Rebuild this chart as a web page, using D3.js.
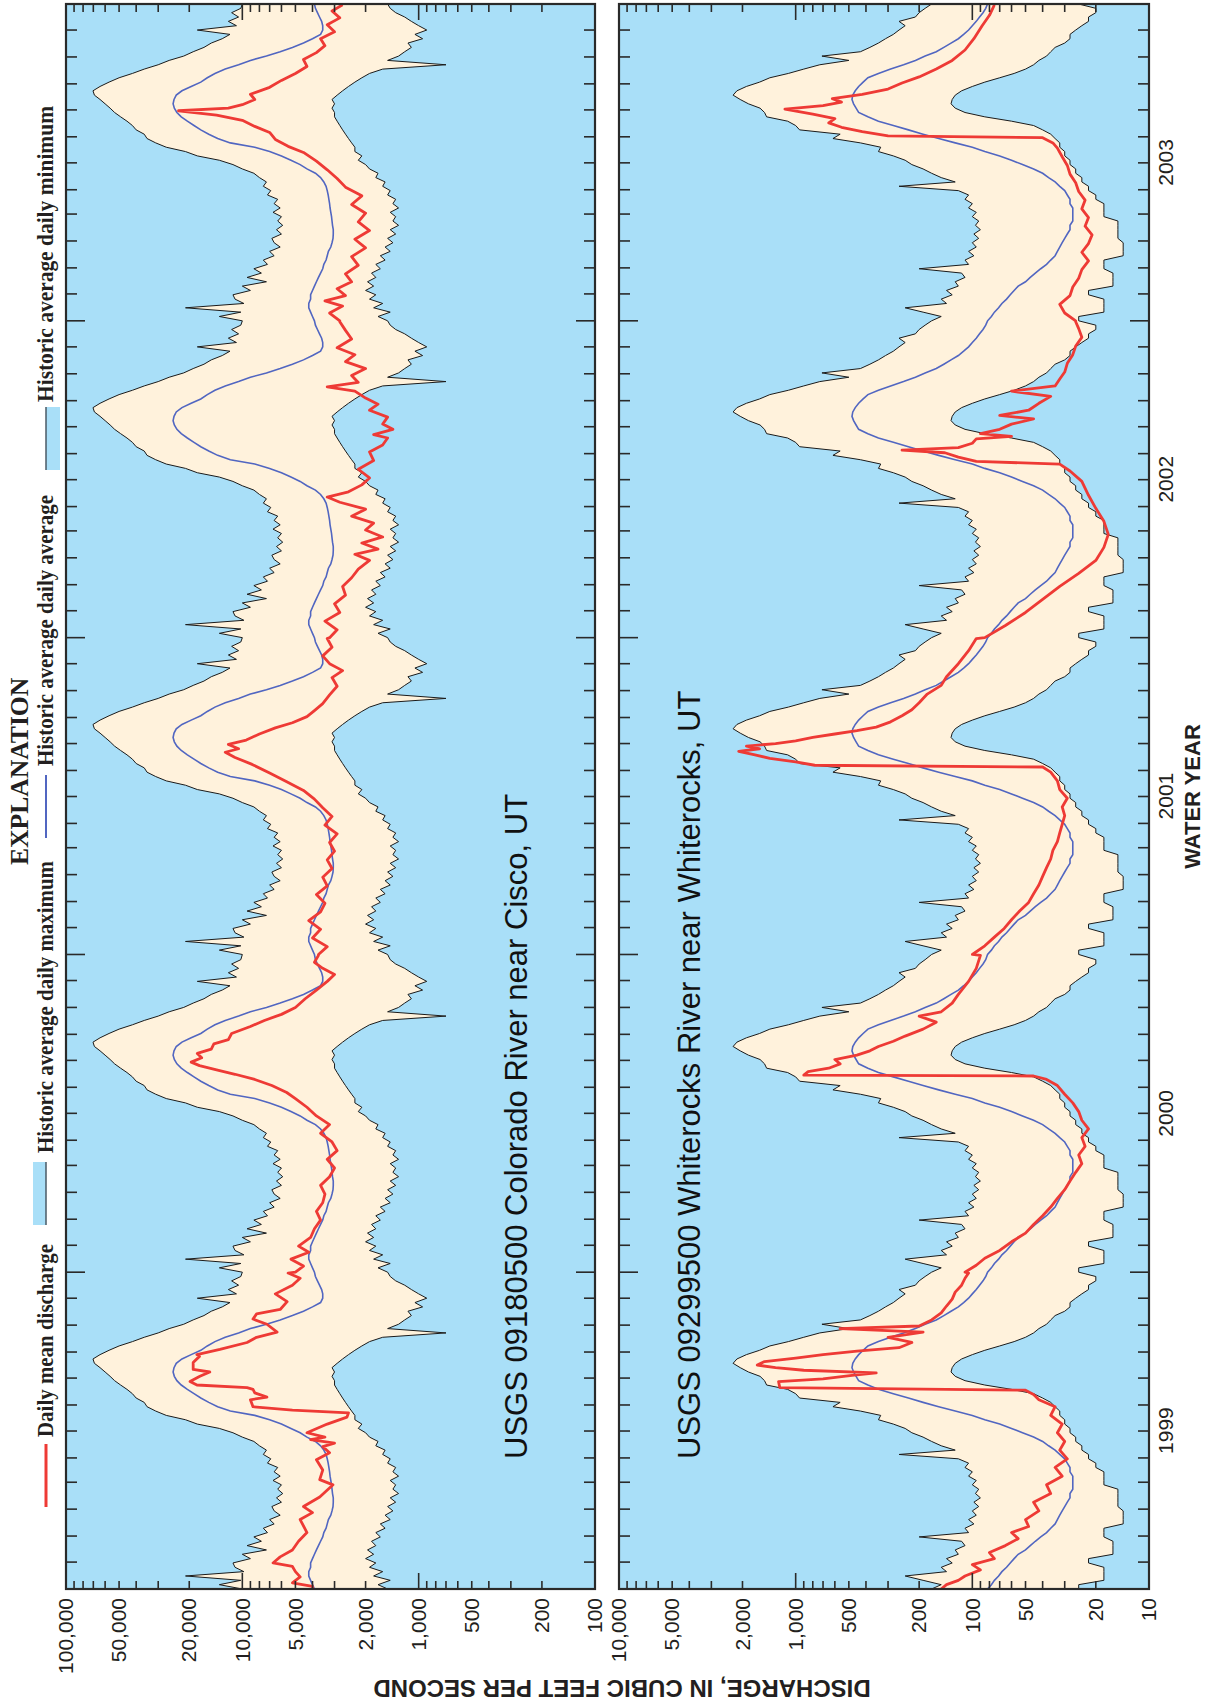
<!DOCTYPE html>
<html>
<head>
<meta charset="utf-8">
<script src="https://cdn.jsdelivr.net/npm/d3@7"></script>
<style>
  body { margin: 0; background: #fff; }
  svg { display: block; }
</style>
</head>
<body>
<svg id="chart" width="1209" height="1703"></svg>
<script>
// ---- data -------------------------------------------------------------
// historic daily statistics, by day of the water year (day 0 = Oct 1)
var histDays = [0,5,10,15,20,25,30,35,40,45,50,55,60,65,70,75,80,85,90,95,
  100,105,110,115,120,125,130,135,140,145,150,155,160,165,170,175,180,185,190,195,
  200,205,210,215,220,225,230,235,240,245,250,255,260,265,270,275,280,285,290,295,
  300,305,310,315,320,325,330,335,340,345,350,355,360];

var ciscoMax = [10000,13500,10200,21000,9800,11000,11300,9000,10000,7300,
  9400,7800,8600,7200,7600,6600,7000,6100,6600,6800,
  6000,6400,5900,6300,6000,6700,6100,6600,6300,7200,
  6900,7600,7300,8000,8600,10000,11300,13500,18000,21000,
  27000,31000,34700,36000,40000,42000,45100,49000,53000,56200,
  60000,64100,69000,70300,64100,57000,50000,42000,36000,30000,
  26000,21500,19000,16500,15000,13000,11750,18000,10800,12000,
  10500,11500,10200];
var ciscoMin = [1500,1700,1450,1800,1600,1900,1750,2000,1800,1950,
  1750,1850,1650,1750,1550,1650,1450,1550,1400,1500,
  1350,1450,1300,1400,1350,1450,1300,1400,1350,1500,
  1450,1600,1550,1750,1700,1900,2000,2200,2100,2300,
  2300,2400,2500,2600,2700,2800,2900,3000,3000,3100,
  3000,3100,2900,2700,2500,2300,2100,1900,1600,700,
  1500,1300,1200,1100,1150,950,1050,900,1000,1100,
  1200,1350,1450];
var ciscoAvg = [3900,4000,4100,4200,4200,4100,4100,4000,3900,3800,
  3700,3600,3500,3450,3350,3300,3250,3150,3100,3060,
  3050,3050,3080,3100,3120,3150,3180,3200,3230,3260,
  3300,3350,3450,3600,3850,4300,4700,5300,6000,7000,
  8500,11700,13800,15500,17200,18800,20500,22200,23500,24300,
  24700,24400,23700,22000,19500,17200,15800,14300,12500,10500,
  9000,7300,6100,5200,4500,4000,3600,3500,3500,3550,
  3650,3750,3850];

var whiteMax = [170,150,190,240,140,150,130,140,120,125,
  110,115,200,105,110,98,105,95,100,92,
  98,90,96,92,100,95,105,100,110,105,
  120,260,125,150,170,190,220,240,280,340,
  330,430,615,560,950,1000,1110,1460,1500,1590,
  1850,2060,2260,2150,1900,1600,1400,1100,900,730,
  500,710,430,380,340,310,280,260,240,260,
  210,200,185];
var whiteMin = [25,25,18,18,18,18,22,22,16,16,
  16,16,18,18,18,14,14,14,14,15,
  15,15,15,15,18,18,18,18,20,20,
  22,22,24,24,26,26,28,28,30,30,
  32,32,34,36,40,45,60,85,110,125,
  132,130,125,115,100,85,70,58,50,45,
  42,38,36,34,30,28,28,26,24,22,
  22,20,20];
var whiteAvg = [82,78,75,71,68,64,61,58,55,50,
  47,44,41,38,36,34,33,32,31,30,
  29,28,28,27,27,27,27,28,28,29,
  30,32,34,37,40,45,52,60,70,85,
  100,125,155,190,230,280,340,390,440,455,
  470,480,475,460,440,415,390,340,290,245,
  210,185,160,145,132,120,112,105,100,95,
  91,87,84];

// daily mean discharge, [day of water year, cfs]
var cisco1999 = [[0,4000],[3,4000],[7,5200],[14,4700],[20,5000],[26,5200],[30,6700],[37,6100],[45,5200],[55,4800],
  [65,4300],[80,4700],[88,4000],[95,4500],[106,3640],[120,3060],[126,3640],[137,3500],[149,3800],[157,3200],
  [164,3500],[168,3000],[172,4100],[175,3400],[180,4300],[190,3300],[198,2550],[203,2500],[206,5200],[210,8700],
  [218,9000],[221,7250],[226,8500],[230,8700],[232,9400],[235,18100],[239,19800],[245,17400],[250,15300],[253,19000],
  [261,19000],[268,17500],[270,18100],[276,13400],[284,9400],[290,8300],[296,6350],[305,7250],[311,8700],[317,8300],
  [322,6100],[331,5570],[340,6500],[350,5200],[358,4700],[364,5500]];
var cisco2000 = [[0,5000],[7,4500],[15,5300],[23,4200],[30,4800],[40,4100],[50,3900],[60,3600],[70,3800],[80,3500],
  [90,3400],[100,3600],[110,3200],[120,3000],[130,3300],[140,2900],[150,3100],[160,3600],[170,3200],[180,3800],
  [190,4300],[200,5000],[207,5600],[215,6800],[222,8500],[228,11000],[233,14000],[238,17500],[242,19500],[247,17000],
  [252,18000],[257,15000],[263,14500],[268,12000],[275,11500],[283,9000],[290,7500],[297,6000],[305,5000],[315,4400],
  [325,3800],[335,3300],[343,3000],[350,3500],[357,3900],[365,3700]];
var cisco2001 = [[0,3700],[9,3300],[19,4000],[29,3600],[39,4200],[49,3600],[59,3400],[69,3800],[79,3300],[89,3500],
  [99,3100],[109,3300],[119,3000],[129,3200],[139,2900],[149,3400],[159,3100],[169,3500],[179,3900],[189,4500],
  [199,5600],[209,7000],[219,8800],[227,11000],[233,12500],[237,10500],[242,12000],[247,9500],[254,8000],[261,6500],
  [267,5200],[274,4300],[281,3900],[289,3500],[299,3200],[309,2900],[319,3100],[327,2700],[335,3200],[344,3500],
  [354,3100],[364,3300]];
var cisco2002 = [[0,3200],[9,2900],[19,3400],[29,2800],[39,3000],[49,2600],[59,2700],[69,2400],[79,2200],[89,1900],
  [96,2300],[102,1700],[109,2100],[116,1600],[124,2000],[132,1800],[140,2400],[148,2000],[156,2800],[162,3300],
  [168,2500],[176,2100],[184,1900],[194,2200],[204,1800],[214,1900],[222,1600],[230,1500],[234,1800],[240,1400],
  [246,1600],[254,1500],[262,1900],[269,1700],[276,2000],[284,2300],[289,3300],[294,2200],[302,2400],[310,2000],
  [318,2600],[326,2300],[334,2900],[344,2400],[354,2600],[364,2800]];
var cisco2003 = [[0,2800],[9,3200],[17,2700],[23,3400],[29,2600],[37,2900],[45,2400],[54,2600],[64,2200],[74,2400],
  [84,2000],[94,2300],[104,1900],[114,2200],[124,2000],[134,2400],[144,2100],[154,2600],[164,2900],[174,3300],
  [184,3800],[194,4500],[201,5500],[209,6500],[217,7000],[224,8500],[231,10000],[237,14000],[242,23000],[245,12000],
  [249,10000],[255,8500],[261,9000],[269,7000],[277,6000],[285,5000],[293,4300],[301,4500],[309,3800],[317,3400],
  [325,3600],[333,3000],[341,3300],[349,2800],[357,3100],[364,2700]];

var white1999 = [[0,150],[5,140],[10,120],[15,110],[22,90],[28,100],[35,75],[42,80],[50,65],[58,55],
  [65,60],[72,48],[80,50],[90,42],[100,45],[110,36],[120,38],[130,31],[140,34],[150,29],
  [160,32],[170,30],[180,33],[190,31],[200,36],[210,34],[218,42],[224,45],[229,50],[232,1230],
  [239,1250],[242,700],[246,480],[249,350],[252,900],[255,1300],[258,1650],[262,1500],[266,1000],[270,700],
  [274,450],[278,260],[284,220],[290,300],[296,190],[300,560],[303,200],[310,170],[318,150],[326,140],
  [334,130],[342,125],[350,115],[358,110],[364,105]];
var white2000 = [[0,110],[8,95],[16,85],[25,70],[35,60],[45,50],[55,45],[65,40],[75,36],[85,33],
  [95,30],[105,28],[115,26],[125,24],[135,25],[145,23],[155,24],[165,22],[175,24],[185,25],
  [195,27],[205,30],[215,33],[222,38],[226,45],[227,900],[231,850],[235,650],[240,560],[245,600],
  [250,450],[255,380],[260,340],[266,280],[272,240],[280,190],[288,160],[295,200],[300,150],[310,130],
  [320,120],[335,105],[350,95],[365,90]];
var white2001 = [[0,100],[10,85],[20,75],[30,66],[40,60],[50,54],[60,48],[70,45],[80,42],[90,40],
  [100,38],[110,36],[120,35],[130,33],[140,32],[150,31],[160,30],[170,31],[180,29],[190,32],
  [200,33],[210,36],[216,40],[218,780],[222,1000],[226,1400],[230,1700],[234,2100],[237,1600],[240,1900],
  [243,1300],[246,1000],[250,800],[254,600],[258,450],[262,350],[268,290],[275,250],[282,220],[290,200],
  [300,180],[310,150],[320,140],[335,120],[350,105],[364,95]];
var white2002 = [[0,85],[14,65],[29,50],[44,40],[59,32],[74,25],[89,20],[104,18],[119,17],[134,18],
  [149,20],[164,22],[180,24],[192,28],[200,32],[203,95],[208,120],[213,143],[216,250],[219,120],
  [224,100],[229,95],[232,60],[235,90],[240,70],[246,60],[252,45],[256,70],[262,48],[270,42],
  [278,36],[284,60],[290,34],[298,32],[306,30],[316,29],[326,27],[336,26],[346,24],[356,25],
  [364,26]];
var white2003 = [[0,26],[9,30],[19,32],[29,28],[39,27],[49,25],[59,24],[69,22],[79,24],[89,22],
  [99,21],[109,23],[119,22],[129,24],[139,23],[149,25],[159,26],[169,28],[179,29],[189,31],
  [199,33],[205,35],[211,40],[213,300],[218,420],[223,550],[228,650],[233,600],[238,800],[244,1150],
  [248,700],[252,550],[256,620],[261,420],[267,300],[274,250],[281,200],[290,160],[300,130],[312,110],
  [325,98],[340,88],[352,80],[364,75]];

var waterYears = [1999, 2000, 2001, 2002, 2003];
var ciscoTicks = [100000, 50000, 20000, 10000, 5000, 2000, 1000, 500, 200, 100];
var whiteTicks = [10000, 5000, 2000, 1000, 500, 200, 100, 50, 20, 10];

// ---- setup ------------------------------------------------------------
var BLUE_BG = '#a9dff8', BEIGE = '#fff2dc', RED = '#ee3a35', AVG = '#5166c1', INK = '#2a2a2a';
var SANS = "'Liberation Sans', Arial, Helvetica, sans-serif";
var SERIF = "'Liberation Serif', 'Times New Roman', serif";
var DAY = 864e5;
function wyStart(wy) { return Date.UTC(wy - 1, 9, 1); }

var svg = d3.select('#chart');
svg.append('rect').attr('width', 1209).attr('height', 1703).attr('fill', '#fff');

// the figure is drawn as an ordinary hydrograph, then turned a quarter turn
var g = svg.append('g').attr('transform', 'translate(0,1703) rotate(-90)');

var x = d3.scaleUtc()
    .domain([new Date(wyStart(1999)), new Date(wyStart(2004))])
    .range([114, 1699]);

var panels = [
  {id: 'cisco', top: 66, bottom: 595, domain: [100, 100000], ticks: ciscoTicks,
   max: ciscoMax, min: ciscoMin, avg: ciscoAvg,
   obs: [cisco1999, cisco2000, cisco2001, cisco2002, cisco2003],
   name: 'USGS 09180500 Colorado River near Cisco, UT', nameY: 527},
  {id: 'white', top: 619, bottom: 1149, domain: [10, 10000], ticks: whiteTicks,
   max: whiteMax, min: whiteMin, avg: whiteAvg,
   obs: [white1999, white2000, white2001, white2002, white2003],
   name: 'USGS 09299500 Whiterocks River near Whiterocks, UT', nameY: 700}
];

panels.forEach(drawPanel);

function drawPanel(p) {
  var y = d3.scaleLog().domain(p.domain).range([p.bottom, p.top]);
  var x0 = x.range()[0], x1 = x.range()[1];

  g.append('clipPath').attr('id', 'clip-' + p.id)
    .append('rect').attr('x', x0).attr('y', p.top)
    .attr('width', x1 - x0).attr('height', p.bottom - p.top);

  var pg = g.append('g').attr('clip-path', 'url(#clip-' + p.id + ')');
  pg.append('rect').attr('x', x0).attr('y', p.top)
    .attr('width', x1 - x0).attr('height', p.bottom - p.top)
    .attr('fill', BLUE_BG);

  // historic statistics repeat every water year
  var hist = [];
  waterYears.forEach(function(wy) {
    histDays.forEach(function(d, i) {
      hist.push({t: new Date(wyStart(wy) + d * DAY), max: p.max[i], min: p.min[i], avg: p.avg[i]});
    });
  });
  hist.push({t: new Date(wyStart(2004)), max: p.max[0], min: p.min[0], avg: p.avg[0]});

  var area = d3.area()
    .x(function(d) { return x(d.t); })
    .y0(function(d) { return y(d.min); })
    .y1(function(d) { return y(d.max); });
  pg.append('path').datum(hist).attr('d', area).attr('fill', BEIGE);

  ['max', 'min'].forEach(function(k) {
    pg.append('path').datum(hist)
      .attr('d', d3.line().x(function(d) { return x(d.t); }).y(function(d) { return y(d[k]); }))
      .attr('fill', 'none').attr('stroke', '#1b1b1b').attr('stroke-width', 1);
  });
  pg.append('path').datum(hist)
    .attr('d', d3.line().x(function(d) { return x(d.t); }).y(function(d) { return y(d.avg); }))
    .attr('fill', 'none').attr('stroke', AVG).attr('stroke-width', 1.6);

  var obs = [];
  p.obs.forEach(function(yearData, k) {
    yearData.forEach(function(r) {
      obs.push({t: new Date(wyStart(waterYears[k]) + r[0] * DAY), q: r[1]});
    });
  });
  pg.append('path').datum(obs)
    .attr('d', d3.line().x(function(d) { return x(d.t); }).y(function(d) { return y(d.q); }))
    .attr('fill', 'none').attr('stroke', RED).attr('stroke-width', 2.8)
    .attr('stroke-linejoin', 'round');

  // ticks along the time edges: monthly, longer at water-year boundaries
  var months = x.ticks(d3.utcMonth.every(1)).filter(function(d) {
    return +d > +x.domain()[0] && +d < +x.domain()[1];
  });
  var tg = g.append('g').attr('stroke', INK).attr('stroke-width', 1.6);
  months.forEach(function(d) {
    var len = d.getUTCMonth() === 9 ? 19 : 11;
    var xx = x(d);
    tg.append('line').attr('x1', xx).attr('x2', xx).attr('y1', p.top).attr('y2', p.top + len);
    tg.append('line').attr('x1', xx).attr('x2', xx).attr('y1', p.bottom).attr('y2', p.bottom - len);
  });

  // ticks along the discharge edges: 1..9 per decade
  var lo = Math.log10(p.domain[0]), hi = Math.log10(p.domain[1]);
  for (var e = lo; e < hi; e++) {
    for (var m = 1; m <= 9; m++) {
      var v = m * Math.pow(10, e);
      if (v <= p.domain[0]) continue;
      var len = m === 1 ? 16 : 8;
      var yy = y(v);
      tg.append('line').attr('x1', x0).attr('x2', x0 + len).attr('y1', yy).attr('y2', yy);
      tg.append('line').attr('x1', x1).attr('x2', x1 - len).attr('y1', yy).attr('y2', yy);
    }
  }

  g.append('rect').attr('x', x0).attr('y', p.top)
    .attr('width', x1 - x0).attr('height', p.bottom - p.top)
    .attr('fill', 'none').attr('stroke', INK).attr('stroke-width', 2.2);

  // discharge labels
  var ax = g.append('g').attr('transform', 'translate(' + x0 + ',0)')
    .call(d3.axisLeft(y).tickValues(p.ticks).tickFormat(d3.format(',')).tickSize(0).tickPadding(9));
  ax.select('.domain').remove();
  ax.selectAll('text').attr('font-family', SANS).attr('font-size', 21).attr('fill', '#231f20');

  g.append('text').attr('x', 244).attr('y', p.nameY)
    .attr('font-family', SANS).attr('font-size', 31).attr('fill', '#111')
    .text(p.name);
}

// water-year labels
waterYears.forEach(function(wy) {
  var mid = new Date((wyStart(wy) + wyStart(wy + 1)) / 2);
  g.append('text').attr('x', x(mid)).attr('y', 1173)
    .attr('text-anchor', 'middle').attr('font-family', SANS).attr('font-size', 21)
    .attr('fill', '#231f20').text(wy);
});
g.append('text').attr('x', (x.range()[0] + x.range()[1]) / 2).attr('y', 1200)
  .attr('text-anchor', 'middle').attr('font-family', SANS).attr('font-size', 22)
  .attr('font-weight', 'bold').attr('fill', '#231f20').text('WATER YEAR');

g.append('text').attr('transform', 'translate(23,622) rotate(-90)')
  .attr('text-anchor', 'middle').attr('font-family', SANS).attr('font-size', 24)
  .attr('font-weight', 'bold').attr('fill', '#231f20')
  .text('DISCHARGE, IN CUBIC FEET PER SECOND');

// explanation
var lg = g.append('g').attr('font-family', SERIF).attr('font-weight', 'bold').attr('fill', '#231f20');
lg.append('text').attr('x', 838).attr('y', 28).attr('font-size', 25.6).text('EXPLANATION');

function legendText(u, label, w) {
  lg.append('text').attr('x', u).attr('y', 53).attr('font-size', 22.5)
    .attr('textLength', w).attr('lengthAdjust', 'spacingAndGlyphs').text(label);
}
lg.append('line').attr('x1', 196).attr('x2', 259).attr('y1', 46).attr('y2', 46)
  .attr('stroke', RED).attr('stroke-width', 3);
legendText(266, 'Daily mean discharge', 193);

lg.append('rect').attr('x', 478).attr('y', 33).attr('width', 63).attr('height', 13).attr('fill', BLUE_BG);
lg.append('line').attr('x1', 478).attr('x2', 541).attr('y1', 46).attr('y2', 46)
  .attr('stroke', '#4a5a66').attr('stroke-width', 1.5);
legendText(550, 'Historic average daily maximum', 292);

lg.append('line').attr('x1', 865).attr('x2', 928).attr('y1', 46).attr('y2', 46)
  .attr('stroke', AVG).attr('stroke-width', 2);
legendText(937, 'Historic average daily average', 271);

lg.append('rect').attr('x', 1233).attr('y', 46).attr('width', 63).attr('height', 14).attr('fill', BLUE_BG);
lg.append('line').attr('x1', 1233).attr('x2', 1296).attr('y1', 46).attr('y2', 46)
  .attr('stroke', '#4a5a66').attr('stroke-width', 1.5);
legendText(1301, 'Historic average daily minimum', 296);
</script>
</body>
</html>
